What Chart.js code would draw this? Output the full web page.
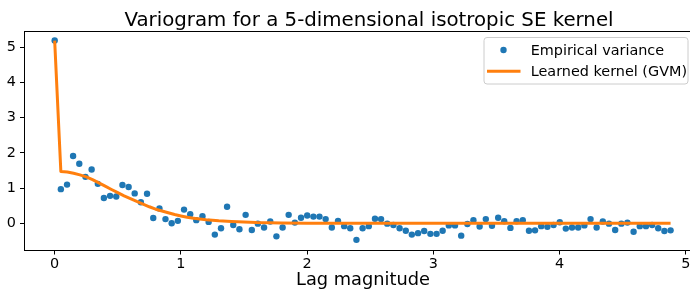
<!DOCTYPE html>
<html><head><meta charset="utf-8">
<script src="https://cdn.jsdelivr.net/npm/chart.js@4/dist/chart.umd.min.js"></script>
<style>
html,body{margin:0;padding:0;overflow:hidden;background:#fff;width:690px;height:289px}
#wrap{position:relative;width:690px;height:289px;overflow:hidden}
canvas{display:block}
</style></head>
<body><div id="wrap"><canvas id="c" width="706" height="289"></canvas></div>
<script>
const titleText = "Variogram for a 5-dimensional isotropic SE kernel";
const xLabel = "Lag magnitude";
const seriesNames = ["Empirical variance", "Learned kernel (GVM)"];
const xTicks = [0, 1, 2, 3, 4, 5];
const yTicks = [0, 1, 2, 3, 4, 5];

const lags = [0, 0.049, 0.098, 0.146, 0.195, 0.244, 0.293, 0.342, 0.390, 0.439,
  0.488, 0.537, 0.586, 0.634, 0.683, 0.732, 0.781, 0.830, 0.878, 0.927,
  0.976, 1.025, 1.074, 1.122, 1.171, 1.220, 1.269, 1.318, 1.366, 1.415,
  1.464, 1.513, 1.562, 1.610, 1.659, 1.708, 1.757, 1.806, 1.854, 1.903,
  1.952, 2.001, 2.050, 2.098, 2.147, 2.196, 2.245, 2.294, 2.342, 2.391,
  2.440, 2.489, 2.538, 2.586, 2.635, 2.684, 2.733, 2.782, 2.830, 2.879,
  2.928, 2.977, 3.026, 3.074, 3.123, 3.172, 3.221, 3.270, 3.318, 3.367,
  3.416, 3.465, 3.514, 3.562, 3.611, 3.660, 3.709, 3.758, 3.806, 3.855,
  3.904, 3.953, 4.002, 4.050, 4.099, 4.148, 4.197, 4.246, 4.294, 4.343,
  4.392, 4.441, 4.490, 4.538, 4.587, 4.636, 4.685, 4.734, 4.782, 4.831, 4.880];

const empiricalVariance = [5.19, 0.97, 1.10, 1.91, 1.69, 1.32, 1.53, 1.12, 0.72, 0.78,
  0.76, 1.09, 1.03, 0.85, 0.60, 0.84, 0.15, 0.42, 0.12, 0.00,
  0.07, 0.39, 0.26, 0.09, 0.20, 0.04, -0.32, -0.14, 0.47, -0.05,
  -0.17, 0.24, -0.19, -0.01, -0.12, 0.05, -0.37, -0.12, 0.24, 0.02,
  0.16, 0.22, 0.19, 0.19, 0.12, -0.12, 0.07, -0.08, -0.14, -0.47,
  -0.14, -0.08, 0.13, 0.12, -0.01, -0.05, -0.14, -0.21, -0.32, -0.28,
  -0.22, -0.30, -0.30, -0.21, -0.06, -0.06, -0.35, -0.02, 0.09, -0.09,
  0.12, -0.07, 0.16, 0.06, -0.13, 0.06, 0.09, -0.21, -0.20, -0.08,
  -0.10, -0.05, 0.03, -0.15, -0.12, -0.12, -0.06, 0.12, -0.12, 0.05,
  -0.01, -0.19, -0.01, 0.02, -0.24, -0.08, -0.08, -0.05, -0.14, -0.22, -0.20];

const kernelLags = [0, 0.049, 0.1, 0.15, 0.2, 0.25, 0.3, 0.35, 0.4, 0.45, 0.5,
  0.55, 0.6, 0.65, 0.7, 0.75, 0.8, 0.85, 0.9, 0.95, 1.0,
  1.05, 1.1, 1.2, 1.3, 1.4, 1.5, 1.6, 1.8, 2.0, 2.5, 3.0, 3.5, 4.0, 4.5, 4.88];
const kernelValues = [5.19, 1.47, 1.455, 1.42, 1.375, 1.32, 1.24, 1.15, 1.055, 0.96, 0.87,
  0.78, 0.70, 0.62, 0.545, 0.47, 0.40, 0.35, 0.30, 0.25, 0.21,
  0.17, 0.145, 0.10, 0.07, 0.05, 0.035, 0.02, 0.01, 0.0, 0.0, 0.0, 0.0, 0.0, 0.0, 0.0];

const FONT = "'DejaVu Sans', sans-serif";
const BLUE = '#1f77b4', ORANGE = '#ff7f0e';

const framePlugin = {
  id: 'frameAndLegend',
  afterDraw(chart) {
    const {ctx, chartArea: a} = chart;
    ctx.save();
    ctx.strokeStyle = '#000';
    ctx.lineWidth = 1;
    ctx.strokeRect(Math.round(a.left) + 0.5, Math.round(a.top) + 0.5,
      Math.round(a.right - a.left), Math.round(a.bottom - a.top));
    // title
    ctx.fillStyle = '#000';
    ctx.font = "19.8px " + FONT;
    ctx.textAlign = 'center';
    ctx.textBaseline = 'alphabetic';
    ctx.fillText(titleText, 369, 25.5);
    // legend box (inside axes, upper right)
    const bx = 484, by = 37.5, bw = 204, bh = 46.5, r = 3;
    ctx.beginPath();
    ctx.moveTo(bx + r, by);
    ctx.arcTo(bx + bw, by, bx + bw, by + bh, r);
    ctx.arcTo(bx + bw, by + bh, bx, by + bh, r);
    ctx.arcTo(bx, by + bh, bx, by, r);
    ctx.arcTo(bx, by, bx + bw, by, r);
    ctx.closePath();
    ctx.fillStyle = 'rgba(255,255,255,0.8)';
    ctx.fill();
    ctx.strokeStyle = '#cccccc';
    ctx.lineWidth = 1;
    ctx.stroke();
    ctx.fillStyle = BLUE;
    ctx.beginPath();
    ctx.arc(503.5, 50, 3.2, 0, Math.PI * 2);
    ctx.fill();
    ctx.strokeStyle = ORANGE;
    ctx.lineWidth = 3;
    ctx.beginPath();
    ctx.moveTo(487, 71.3);
    ctx.lineTo(520.5, 71.3);
    ctx.stroke();
    ctx.fillStyle = '#000';
    ctx.font = "14.4px " + FONT;
    ctx.textAlign = 'left';
    ctx.fillText(seriesNames[0], 530.7, 54.6);
    ctx.fillText(seriesNames[1], 530.7, 75.8);
    ctx.restore();
  }
};

new Chart(document.getElementById('c'), {
  data: {
    datasets: [
      {
        type: 'line',
        label: seriesNames[1],
        data: kernelLags.map((x, i) => ({x, y: kernelValues[i]})),
        borderColor: ORANGE,
        borderWidth: 3,
        pointRadius: 0,
        tension: 0,
        fill: false,
        borderJoinStyle: 'round',
        order: 0
      },
      {
        type: 'scatter',
        label: seriesNames[0],
        data: lags.map((x, i) => ({x, y: empiricalVariance[i]})),
        backgroundColor: BLUE,
        borderWidth: 0,
        pointRadius: 3.2,
        order: 1
      }
    ]
  },
  options: {
    responsive: false,
    animation: false,
    devicePixelRatio: 1,
    layout: {padding: {top: 30.7, left: 0, right: 0, bottom: 0}},
    plugins: {
      legend: {display: false},
      tooltip: {enabled: false},
      title: {display: false}
    },
    scales: {
      x: {
        type: 'linear',
        min: -0.243,
        max: 5.129,
        afterFit(s) { s.height = 39; },
        afterBuildTicks(s) { s.ticks = xTicks.map(v => ({value: v})); },
        grid: {display: true, drawOnChartArea: false, drawTicks: true, tickLength: 4.5, tickColor: '#000', tickWidth: 1},
        border: {display: false},
        ticks: {color: '#000', font: {family: FONT, size: 14.4}, padding: 1, maxRotation: 0,
          callback: v => String(v)},
        title: {display: true, text: xLabel, color: '#000',
          font: {family: FONT, size: 17.8, lineHeight: 1}, padding: {top: 0, bottom: 0}}
      },
      y: {
        type: 'linear',
        min: -0.758,
        max: 5.47,
        afterFit(s) { s.width = 24; },
        afterBuildTicks(s) { s.ticks = yTicks.map(v => ({value: v})); },
        grid: {display: true, drawOnChartArea: false, drawTicks: true, tickLength: 4, tickColor: '#000', tickWidth: 1},
        border: {display: false},
        ticks: {color: '#000', font: {family: FONT, size: 14.4}, padding: 4,
          callback: v => String(v)}
      }
    }
  },
  plugins: [framePlugin]
});
</script>
</body></html>
